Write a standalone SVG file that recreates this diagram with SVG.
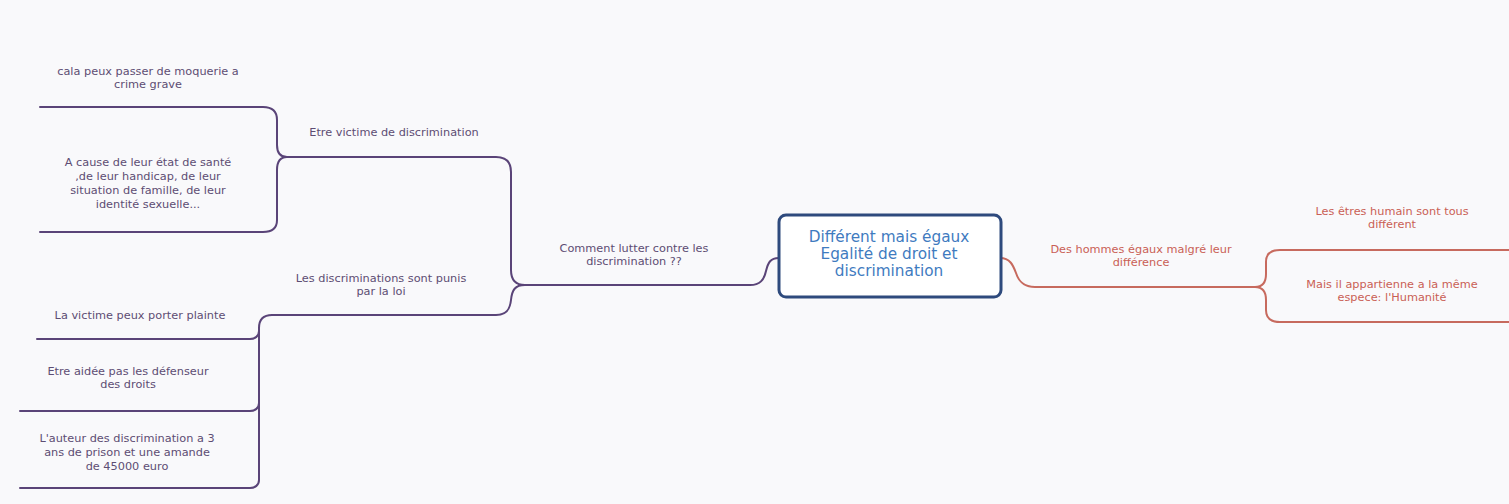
<svg xmlns="http://www.w3.org/2000/svg" width="1509" height="504" viewBox="0 0 1509 504">
<style>
.bg{fill:#f9f9fb}
.lp{fill:none;stroke:#5a4478;stroke-width:2;stroke-linecap:round}
.lr{fill:none;stroke:#c76a5e;stroke-width:2;stroke-linecap:round}
.tp{font-family:"DejaVu Sans",sans-serif;font-size:11.3px;fill:#5d4d73;text-anchor:middle}
.tr{font-family:"DejaVu Sans",sans-serif;font-size:11.3px;fill:#c95f55;text-anchor:middle}
.tc{font-family:"DejaVu Sans",sans-serif;font-size:15.3px;fill:#3f7bbf;text-anchor:middle}
.box{fill:#ffffff;stroke:#2e4a7d;stroke-width:3}
</style>
<rect class="bg" x="0" y="0" width="1509" height="504"/>
<g id="connectors">
<path class="lp" d="M779,258 C770,258 768,263 766,271 C764,280 760,285 750,285 L525,285 C515,285 511,280 511,270 L511,172 C511,162 506,157 496,157 L287,157"/>
<path class="lp" d="M525,285 C515,285 512,290 511,300 C510,310 506,315 496,315 L272,315"/>
<path class="lp" d="M287,157 C280,157 277,152 277,145 L277,120 C277,111 272,107 263,107 L40,107"/>
<path class="lp" d="M287,157 C280,157 277,162 277,170 L277,220 C277,228 272,232 263,232 L40,232"/>
<path class="lp" d="M272,315 C263,315 259,319 259,328 L259,331 C259,336 255,339 250,339 L37,339"/>
<path class="lp" d="M259,328 L259,403 C259,408 255,411 250,411 L20,411"/>
<path class="lp" d="M259,400 L259,480 C259,485 255,488 250,488 L20,488"/>
<path class="lr" d="M1000,258 C1010,258 1013,265 1016,273 C1019,282 1024,287 1035,287 L1255,287"/>
<path class="lr" d="M1255,287 C1263,287 1266,282 1266,274 L1266,262 C1266,254 1271,250 1280,250 L1509,250"/>
<path class="lr" d="M1255,287 C1263,287 1266,292 1266,300 L1266,310 C1266,318 1271,322 1280,322 L1509,322"/>
</g>
<g id="center">
<rect class="box" x="779" y="215" width="222" height="82" rx="7"/>
<text class="tc" x="889" y="242">Différent mais égaux</text>
<text class="tc" x="889" y="259">Egalité de droit et</text>
<text class="tc" x="889" y="276">discrimination</text>
</g>
<g id="n-comment">
<text class="tp" x="634" y="252">Comment lutter contre les</text>
<text class="tp" x="634" y="265">discrimination ??</text>
</g>
<g id="n-victime">
<text class="tp" x="394" y="136">Etre victime de discrimination</text>
</g>
<g id="n-cala">
<text class="tp" x="148" y="75">cala peux passer de moquerie a</text>
<text class="tp" x="148" y="88">crime grave</text>
</g>
<g id="n-cause">
<text class="tp" x="148" y="166">A cause de leur état de santé</text>
<text class="tp" x="148" y="180">,de leur handicap, de leur</text>
<text class="tp" x="148" y="194">situation de famille, de leur</text>
<text class="tp" x="148" y="208">identité sexuelle...</text>
</g>
<g id="n-punis">
<text class="tp" x="381" y="282">Les discriminations sont punis</text>
<text class="tp" x="381" y="295">par la loi</text>
</g>
<g id="n-plainte">
<text class="tp" x="140" y="319">La victime peux porter plainte</text>
</g>
<g id="n-aidee">
<text class="tp" x="128" y="375">Etre aidée pas les défenseur</text>
<text class="tp" x="128" y="388">des droits</text>
</g>
<g id="n-auteur">
<text class="tp" x="127" y="442">L'auteur des discrimination a 3</text>
<text class="tp" x="127" y="456">ans de prison et une amande</text>
<text class="tp" x="127" y="470">de 45000 euro</text>
</g>
<g id="n-hommes">
<text class="tr" x="1141" y="253">Des hommes égaux malgré leur</text>
<text class="tr" x="1141" y="266">différence</text>
</g>
<g id="n-etres">
<text class="tr" x="1392" y="215">Les êtres humain sont tous</text>
<text class="tr" x="1392" y="228">différent</text>
</g>
<g id="n-mais">
<text class="tr" x="1392" y="288">Mais il appartienne a la même</text>
<text class="tr" x="1392" y="301">espece: l'Humanité</text>
</g>
</svg>
